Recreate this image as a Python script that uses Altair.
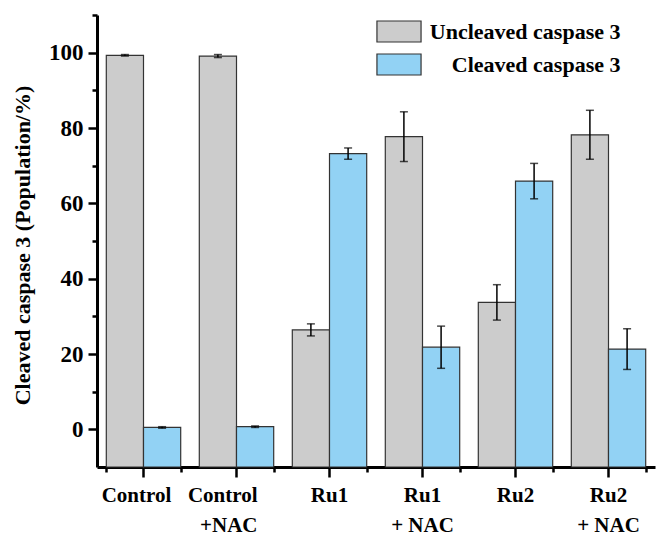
import altair as alt
import pandas as pd

# Treatment groups (a "\n" splits the axis label onto two lines)
groups = ["Control", "Control\n+NAC", "Ru1", "Ru1\n+ NAC", "Ru2", "Ru2\n+ NAC"]
series = ["Uncleaved caspase 3", "Cleaved caspase 3"]

# Population (%) and error (±) for each group
uncleaved = [99.3, 99.1, 26.4, 77.7, 33.7, 78.2]
uncleaved_err = [0.2, 0.4, 1.6, 6.6, 4.7, 6.5]
cleaved = [0.5, 0.7, 73.2, 21.8, 65.9, 21.3]
cleaved_err = [0.2, 0.2, 1.5, 5.6, 4.7, 5.4]

colors = ["#cccccc", "#92d2f4"]
FONT = "Liberation Serif"

rows = []
for g, u, ue, c, ce in zip(groups, uncleaved, uncleaved_err, cleaved, cleaved_err):
    rows.append({"group": g, "series": series[0], "value": u, "err": ue})
    rows.append({"group": g, "series": series[1], "value": c, "err": ce})
df = pd.DataFrame(rows)

x_scale = alt.Scale(domain=groups, paddingInner=0.2, paddingOuter=0.1)

# the two control labels are nudged left so they don't crowd each other
is_ctrl = "datum.value === 'Control'"
is_ctrl_nac = "indexof(datum.value, '+NAC') >= 0"

x_main = alt.X(
    "group:N", sort=groups, title=None, scale=x_scale,
    axis=alt.Axis(
        orient="bottom", labelExpr="split(datum.label, '\\n')", labelAngle=0,
        labelFont=FONT, labelFontSize=21, labelFontWeight="bold", labelColor="black",
        labelLineHeight=30, labelPadding=7, labelBaseline="top",
        labelAlign={"condition": {"test": is_ctrl_nac, "value": "right"}, "value": "center"},
        labelOffset={"condition": [{"test": is_ctrl, "value": -7},
                                   {"test": is_ctrl_nac, "value": 21}], "value": 0},
        tickSize=10, tickWidth=2.5, tickColor="black",
        domainColor="black", domainWidth=3,
    ),
)
# boundary ticks between the groups
x_minor = alt.X(
    "group:N", sort=groups, title=None, scale=x_scale,
    axis=alt.Axis(orient="bottom", tickBand="extent", labels=False, domain=False,
                  tickSize=5, tickWidth=2.5, tickColor="black"),
)
x_plain = alt.X("group:N", sort=groups, title=None, scale=x_scale, axis=None)

y_axis = alt.Axis(
    values=list(range(0, 111, 10)),
    labelExpr="datum.value % 20 == 0 ? datum.label : ''",
    labelFont=FONT, labelFontSize=23, labelFontWeight="bold", labelColor="black",
    labelPadding=5,
    tickSize={"condition": {"test": "datum.value % 20 == 0", "value": 9}, "value": 5},
    tickWidth=2.5, tickColor="black", domainColor="black", domainWidth=3,
    grid=False,
    titleFont=FONT, titleFontSize=22, titleFontWeight="bold", titleColor="black",
    titleX=-75, titleY=230, titleBaseline="middle",
)
y_scale = alt.Scale(domain=[-10, 110], nice=False, zero=False)
Y_TITLE = "Cleaved caspase 3 (Population/%)"

x_off = alt.XOffset("series:N", sort=series, scale=alt.Scale(domain=series))

base = alt.Chart(df)

bars = base.mark_bar(stroke="#333333", strokeWidth=1.2, opacity=1).encode(
    x=x_main,
    xOffset=x_off,
    y=alt.Y("value:Q", title=Y_TITLE, scale=y_scale, axis=y_axis),
    y2=alt.datum(-10),
    color=alt.Color(
        "series:N",
        scale=alt.Scale(domain=series, range=colors),
        legend=alt.Legend(
            title=None, orient="none", legendX=290.5, legendY=5, padding=0,
            # wide rectangular swatch: 44 x 21 px
            symbolType="M-2.1,-1H2.1V1H-2.1Z", symbolSize=441,
            symbolStrokeColor="#333333", symbolStrokeWidth=1.2, symbolOpacity=1,
            labelFont=FONT, labelFontSize=22, labelFontWeight="bold", labelColor="black",
            labelAlign="right", labelOffset=210, labelLimit=400, rowPadding=6,
        ),
    ),
)

err = base.transform_calculate(
    lo="datum.value - datum.err", hi="datum.value + datum.err"
)

stems = err.mark_rule(color="black", strokeWidth=1.5).encode(
    x=x_minor,
    xOffset=x_off,
    y=alt.Y("lo:Q", title=Y_TITLE, scale=y_scale, axis=y_axis),
    y2="hi:Q",
)
cap_lo = err.mark_tick(color="black", thickness=1.5, size=8, orient="horizontal").encode(
    x=x_plain, xOffset=x_off,
    y=alt.Y("lo:Q", title=Y_TITLE, scale=y_scale, axis=y_axis),
)
cap_hi = err.mark_tick(color="black", thickness=1.5, size=8, orient="horizontal").encode(
    x=x_plain, xOffset=x_off,
    y=alt.Y("hi:Q", title=Y_TITLE, scale=y_scale, axis=y_axis),
)

chart = (
    alt.layer(bars, stems, cap_lo, cap_hi)
    .resolve_axis(x="independent")
    .properties(
        width=558, height=452,
        autosize=alt.AutoSizeParams(type="none"),
        padding={"left": 97, "top": 15, "right": 7, "bottom": 68},
        background="white",
    )
    .configure_view(stroke=None)
)

chart.save("out.html", embed_options={"renderer": "svg", "actions": False})
